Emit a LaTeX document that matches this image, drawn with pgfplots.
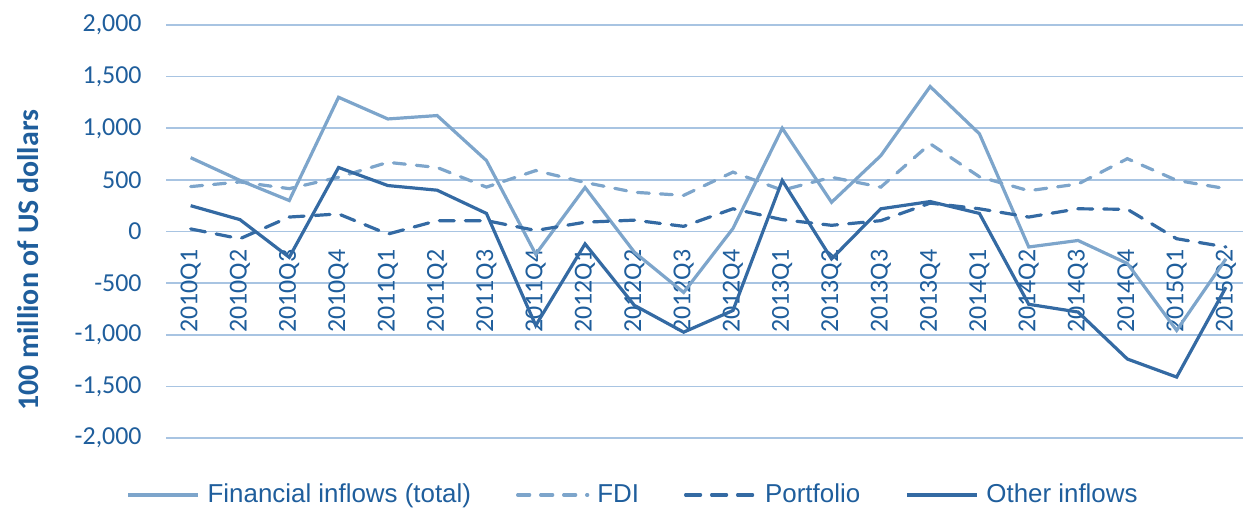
\documentclass[border=0pt]{standalone}
\usepackage{fontspec}
\setmainfont{Carlito}
\newfontfamily\legfont{Liberation Sans}
\usepackage{pgfplots}
\pgfplotsset{compat=1.18}
\definecolor{lightc}{RGB}{125,165,203}
\definecolor{darkc}{RGB}{52,106,163}
\definecolor{textc}{RGB}{31,94,156}
\definecolor{gridc}{RGB}{168,196,226}
\begin{document}
\begin{tikzpicture}
\begin{axis}[
  at={(83bp,35bp)}, anchor=south west,
  scale only axis, width=538.6bp, height=206.5bp,
  xmin=-0.5, xmax=21.35, ymin=-2000, ymax=2000,
  xtick={0,...,21},
  xticklabels={2010Q1,2010Q2,2010Q3,2010Q4,2011Q1,2011Q2,2011Q3,2011Q4,2012Q1,2012Q2,2012Q3,2012Q4,2013Q1,2013Q2,2013Q3,2013Q4,2014Q1,2014Q2,2014Q3,2014Q4,2015Q1,2015Q2},
  ytick={-2000,-1500,...,2000},
  axis line style={draw=none}, tick style={draw=none},
  ymajorgrids, grid style={gridc, line width=0.8bp},
  /pgf/number format/assume math mode=true,
  /pgf/number format/1000 sep={,},
  yticklabel style={font=\fontsize{13}{15}\selectfont, text=textc, anchor=east, inner sep=0pt, xshift=-12bp},
  xticklabel style={font=\fontsize{13}{15}\selectfont, text=textc, rotate=90, anchor=west, inner sep=0pt},
  xticklabel shift=-52.5bp,
  ylabel={100 million of US dollars},
  ylabel style={at={(axis description cs:-0.128,0.43)}, anchor=center, rotate=0, font=\fontsize{15}{17}\selectfont\bfseries, text=textc},
  legend columns=4,
  legend style={at={(axis description cs:0.4326,-0.138)}, anchor=center, draw=none, fill=none,
    font=\legfont\fontsize{13}{15}\selectfont, text=textc,
    nodes={inner sep=0pt},
    /tikz/every odd column/.append style={column sep=4bp},
    /tikz/every even column/.append style={column sep=22.5bp}},
  legend image code/.code={\draw[#1] (0bp,0bp) -- (35bp,0bp);},
  every axis plot/.append style={line width=1.6bp},
  clip=true,
]
\addplot[lightc] coordinates {(0,715) (1,495) (2,300) (3,1300) (4,1090) (5,1123) (6,687) (7,-220) (8,426) (9,-200) (10,-590) (11,29) (12,1000) (13,283) (14,735) (15,1404) (16,946) (17,-150) (18,-87) (19,-310) (20,-958) (21,-265)};
\addlegendentry{Financial inflows (total)}
\addplot[lightc, line cap=round, dash pattern=on 6bp off 5.5bp] coordinates {(0,435) (1,480) (2,415) (3,525) (4,670) (5,620) (6,430) (7,590) (8,475) (9,380) (10,350) (11,575) (12,400) (13,525) (14,430) (15,850) (16,530) (17,395) (18,460) (19,705) (20,495) (21,415)};
\addlegendentry{FDI}
\addplot[darkc, line cap=round, dash pattern=on 7.5bp off 5.5bp] coordinates {(0,25) (1,-70) (2,140) (3,170) (4,-25) (5,105) (6,105) (7,10) (8,90) (9,110) (10,50) (11,220) (12,115) (13,60) (14,105) (15,275) (16,220) (17,140) (18,220) (19,215) (20,-70) (21,-150)};
\addlegendentry{Portfolio}
\addplot[darkc] coordinates {(0,250) (1,115) (2,-250) (3,620) (4,445) (5,400) (6,175) (7,-910) (8,-120) (9,-715) (10,-975) (11,-765) (12,494) (13,-265) (14,220) (15,290) (16,175) (17,-705) (18,-780) (19,-1235) (20,-1410) (21,-540)};
\addlegendentry{Other inflows}
\end{axis}
\pgfresetboundingbox
\useasboundingbox (0,0) rectangle (622.5bp,254bp);
\end{tikzpicture}
\end{document}
